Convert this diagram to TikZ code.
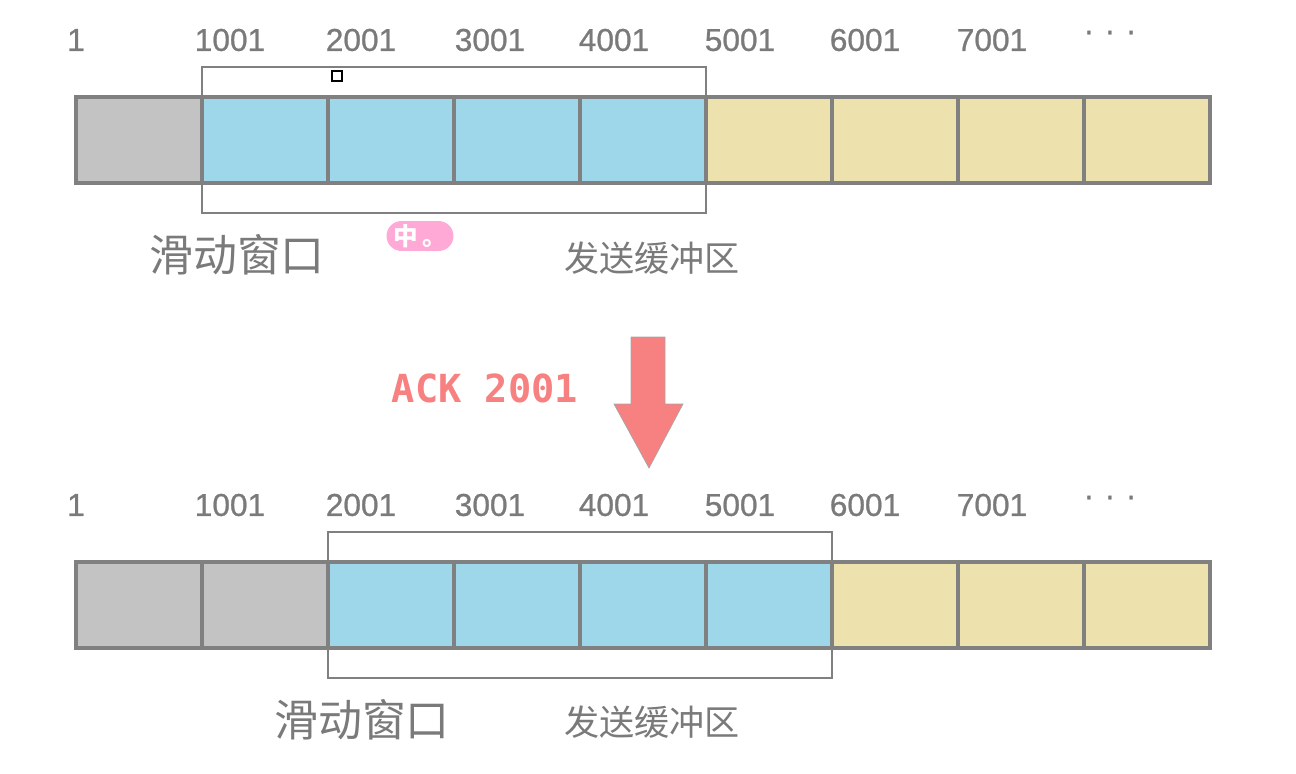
\documentclass[tikz,border=0pt]{standalone}
\usepackage{fontspec}
\usepackage{tikz}
\usetikzlibrary{positioning, fit, calc}
\setmainfont{Liberation Sans}
\newfontfamily\numfont[FakeBold=0.8]{Liberation Sans}
\newfontfamily\cjk{Noto Sans CJK SC}
\newfontfamily\ackfont{DejaVu Sans Mono}
\definecolor{BufGray}{HTML}{C3C3C3}
\definecolor{BufBlue}{HTML}{9FD7EA}
\definecolor{BufYellow}{HTML}{EDE2AE}
\definecolor{EdgeGray}{HTML}{808080}
\definecolor{TextGray}{HTML}{7A7A7A}
\definecolor{AckRed}{HTML}{F78080}
\definecolor{ImePink}{HTML}{FFAAD6}
\tikzset{
  cell/.style={draw=EdgeGray, line width=1.8pt, minimum width=2.52cm, minimum height=1.72cm, inner sep=0pt, outer sep=0pt},
  win/.style={draw=EdgeGray, line width=1.4pt, inner xsep=0pt, inner ysep=0.6cm, outer sep=0pt},
  num/.style={TextGray, font=\numfont\fontsize{18}{20}\selectfont},
  bigcn/.style={TextGray, font=\cjk\fontsize{25}{28}\selectfont},
  smallcn/.style={TextGray, font=\cjk\fontsize{20}{24}\selectfont},
}
\begin{document}
\begin{tikzpicture}[x=0.02cm, y=-0.02cm]
\useasboundingbox (0,0) rectangle (1296,774);
% Top buffer
\foreach \i/\c in {1/BufGray,2/BufBlue,3/BufBlue,4/BufBlue,5/BufBlue,6/BufYellow,7/BufYellow,8/BufYellow,9/BufYellow} {
  \node[cell, fill=\c] (t\i) at ({76+126*(\i-0.5)},140) {};
}
% Bottom buffer
\foreach \i/\c in {1/BufGray,2/BufGray,3/BufBlue,4/BufBlue,5/BufBlue,6/BufBlue,7/BufYellow,8/BufYellow,9/BufYellow} {
  \node[cell, fill=\c] (b\i) at ({76+126*(\i-0.5)},605) {};
}
% Sequence numbers
\foreach \x/\n [count=\k] in {76/1,230/1001,361/2001,490/3001,614/4001,740/5001,865/6001,992/7001} {
  \node[num] (tn\k) at (\x,40) {\n};
  \node[num] (bn\k) at (\x,505) {\n};
}
\node[num] (tdots) at (1110,36) {·\,\,·\,\,·};
\node[num] (bdots) at (1110,501) {·\,\,·\,\,·};
% Windows
\node[win, fit=(t2)(t5)] (twin) {};
\node[win, fit=(b3)(b6)] (bwin) {};
% Labels
\node[bigcn] (tslide) at (237,255) {滑动窗口};
\node[smallcn] (tbuf) at (652,258) {发送缓冲区};
\node[bigcn] (bslide) at (362,720) {滑动窗口};
\node[smallcn] (bbuf) at (652,722) {发送缓冲区};
% Small marks
\node[draw=black, line width=0.6pt, minimum size=0.2cm, inner sep=0pt] (mark) at (337,76) {};
\node[fill=ImePink, rounded corners=0.3cm, minimum width=1.34cm, minimum height=0.6cm, inner sep=0pt,
      text=white, font=\cjk\bfseries\fontsize{14}{16}\selectfont] (ime) at (420,236) {中\,。};
% ACK arrow
\draw[fill=AckRed, draw=EdgeGray!70, line width=0.4pt]
  (631,337) -- (665,337) -- (665,404) -- (683,404) -- (649,468) -- (614,404) -- (631,404) -- cycle;
\node[AckRed, font=\ackfont\bfseries\fontsize{22}{24}\selectfont] (ack) at (485,388) {ACK 2001};
\end{tikzpicture}
\end{document}
